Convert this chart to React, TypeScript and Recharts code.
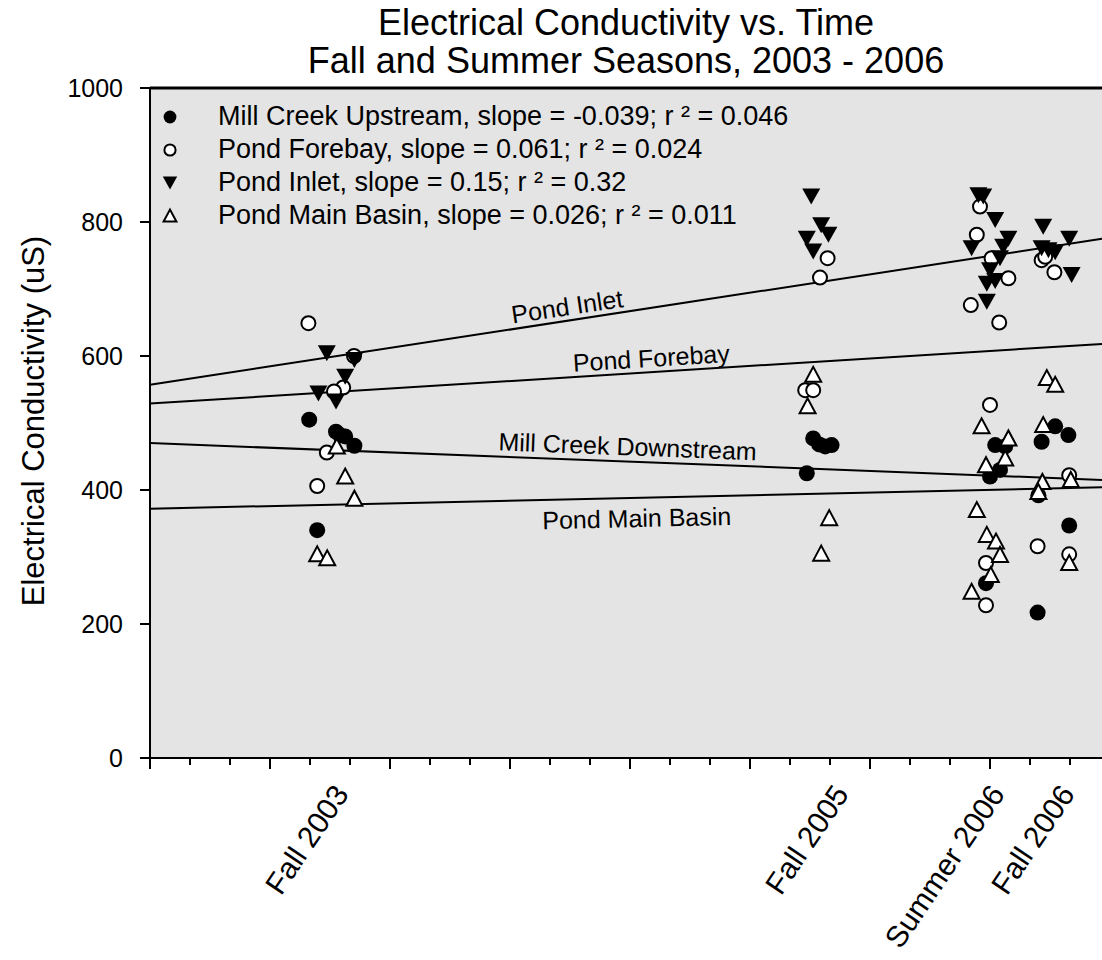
import React from 'react';
import { ScatterChart, Scatter, XAxis, YAxis, CartesianGrid, ReferenceLine, ReferenceDot, Legend } from 'recharts';

const FONT = '"Liberation Sans", Arial, Helvetica, sans-serif';

// x = position along the time axis in minor-tick units, y = conductivity (uS)
const millCreek = [
  { x: 3.98, y: 505 }, { x: 4.65, y: 487 }, { x: 4.75, y: 482 }, { x: 4.88, y: 480 }, { x: 5.11, y: 466 }, { x: 4.18, y: 340 },
  { x: 16.58, y: 477 }, { x: 16.88, y: 465 }, { x: 17.04, y: 467 }, { x: 16.73, y: 468 }, { x: 16.42, y: 425 },
  { x: 21.13, y: 467 }, { x: 21.38, y: 465 }, { x: 21.25, y: 430 }, { x: 21.0, y: 420 }, { x: 20.9, y: 261 },
  { x: 22.63, y: 495 }, { x: 22.96, y: 482 }, { x: 22.29, y: 472 }, { x: 22.21, y: 392 }, { x: 22.98, y: 347 }, { x: 22.19, y: 217 },
];

const forebay = [
  { x: 3.96, y: 649 }, { x: 4.83, y: 553 }, { x: 4.6, y: 547 }, { x: 5.1, y: 600 }, { x: 4.42, y: 456 }, { x: 4.18, y: 406 },
  { x: 16.94, y: 746 }, { x: 16.75, y: 717 }, { x: 16.38, y: 549 }, { x: 16.58, y: 549 },
  { x: 20.75, y: 823 }, { x: 20.67, y: 781 }, { x: 21.04, y: 746 }, { x: 21.46, y: 716 }, { x: 20.52, y: 676 },
  { x: 21.23, y: 650 }, { x: 21.0, y: 527 }, { x: 20.9, y: 291 }, { x: 20.9, y: 228 },
  { x: 22.29, y: 743 }, { x: 22.38, y: 748 }, { x: 22.61, y: 725 }, { x: 22.98, y: 422 }, { x: 22.19, y: 316 }, { x: 22.98, y: 304 },
];

const inlet = [
  { x: 4.42, y: 604 }, { x: 5.11, y: 594 }, { x: 4.88, y: 569 }, { x: 4.21, y: 544 }, { x: 4.65, y: 532 },
  { x: 16.53, y: 838 }, { x: 16.78, y: 795 }, { x: 16.96, y: 781 }, { x: 16.42, y: 775 }, { x: 16.58, y: 756 },
  { x: 20.71, y: 840 }, { x: 20.83, y: 838 }, { x: 21.13, y: 803 }, { x: 20.54, y: 761 }, { x: 21.46, y: 775 },
  { x: 21.33, y: 763 }, { x: 21.25, y: 746 }, { x: 21.0, y: 728 }, { x: 21.13, y: 712 }, { x: 20.92, y: 708 }, { x: 20.92, y: 681 },
  { x: 22.33, y: 793 }, { x: 22.98, y: 775 }, { x: 22.29, y: 761 }, { x: 22.46, y: 758 }, { x: 22.63, y: 755 }, { x: 23.04, y: 721 },
];

const mainBasin = [
  { x: 4.67, y: 465 }, { x: 4.88, y: 420 }, { x: 5.11, y: 387 }, { x: 4.18, y: 304 }, { x: 4.43, y: 298 },
  { x: 16.58, y: 572 }, { x: 16.44, y: 525 }, { x: 16.98, y: 358 }, { x: 16.78, y: 305 },
  { x: 20.79, y: 495 }, { x: 21.46, y: 477 }, { x: 21.38, y: 447 }, { x: 20.9, y: 437 }, { x: 20.67, y: 370 },
  { x: 20.92, y: 333 }, { x: 21.15, y: 323 }, { x: 21.25, y: 303 }, { x: 21.02, y: 273 }, { x: 20.54, y: 248 },
  { x: 22.42, y: 567 }, { x: 22.63, y: 557 }, { x: 22.33, y: 497 }, { x: 23.02, y: 415 }, { x: 22.31, y: 412 },
  { x: 22.21, y: 397 }, { x: 22.98, y: 291 },
];

const SERIES_NAMES = ['Mill Creek Upstream', 'Pond Forebay', 'Pond Inlet', 'Pond Main Basin'];
const SERIES_STATS = [
  'slope = -0.039; r \u00b2 = 0.046',
  'slope = 0.061; r \u00b2 = 0.024',
  'slope = 0.15; r \u00b2 = 0.32',
  'slope = 0.026; r \u00b2 = 0.011',
];
const SERIES_MARKERS = ['dot', 'ring', 'down', 'up'];
const SERIES_DATA = [millCreek, forebay, inlet, mainBasin];

const X_MAX = 23.8;
const Y_TICKS = [0, 200, 400, 600, 800, 1000];
const MINOR_TICKS = Array.from({ length: 24 }, (_, i) => i);
const SEASON_X = [4.55, 17.05, 20.95, 22.7];
const SEASON_LABELS = ['Fall 2003', 'Fall 2005', 'Summer 2006', 'Fall 2006'];

// regression lines, value at left and right edge of the plot
const FIT_NAMES = ['Pond Inlet', 'Pond Forebay', 'Mill Creek Downstream', 'Pond Main Basin'];
const FIT_START = [557, 529, 470, 372];
const FIT_END = [775, 618, 415, 404];
const FIT_LABEL_X = [10.43, 12.53, 11.94, 12.17];
const FIT_LABEL_Y = [674, 597, 465, 358];
const FIT_LABEL_ANGLE = [-8.5, -3.6, 2.2, -1.3];

const Marker = ({ kind, cx, cy, s = 1 }: { kind: string; cx: number; cy: number; s?: number }) => {
  if (kind === 'dot') return <circle cx={cx} cy={cy} r={8 * s} fill="#000" />;
  if (kind === 'ring') return <circle cx={cx} cy={cy} r={7 * s} fill="#fff" stroke="#000" strokeWidth={2} />;
  if (kind === 'down') {
    const pts = `${cx - 9 * s},${cy - 8 * s} ${cx + 9 * s},${cy - 8 * s} ${cx},${cy + 8 * s}`;
    return <polygon points={pts} fill="#000" />;
  }
  const pts = `${cx - 8 * s},${cy + 7 * s} ${cx + 8 * s},${cy + 7 * s} ${cx},${cy - 8 * s}`;
  return <polygon points={pts} fill="#fff" stroke="#000" strokeWidth={2} strokeLinejoin="miter" />;
};

const XTick = (props: any) => {
  const { x, y, payload } = props;
  const idx = SEASON_X.indexOf(payload.value);
  if (idx >= 0) {
    const ty = y + 24;
    return (
      <text x={x} y={ty} transform={`rotate(-56, ${x}, ${ty})`} textAnchor="end" dy="0.72em"
        fontSize={30} fontFamily={FONT} fill="#000">
        {SEASON_LABELS[idx]}
      </text>
    );
  }
  const major = Math.round(payload.value) % 3 === 0;
  return <line x1={x} y1={y} x2={x} y2={y + (major ? 11 : 7)} stroke="#000" strokeWidth={2} />;
};

const LegendBox = () => (
  <div style={{ fontFamily: FONT, fontSize: 27, color: '#000' }}>
    {SERIES_NAMES.map((name, i) => (
      <div key={name} style={{ display: 'flex', alignItems: 'center', height: 33 }}>
        <svg width={24} height={24} style={{ display: 'block' }}>
          <Marker kind={SERIES_MARKERS[i]} cx={12} cy={12} s={0.8} />
        </svg>
        <span style={{ marginLeft: 36, whiteSpace: 'nowrap' }}>{name}, {SERIES_STATS[i]}</span>
      </div>
    ))}
  </div>
);

export default function App() {
  const xTicks = [...MINOR_TICKS, ...SEASON_X].sort((a, b) => a - b);
  return (
    <div style={{ position: 'fixed', left: 0, top: 0, width: 1102, height: 960, background: '#fff', fontFamily: FONT }}>
      <div style={{ position: 'absolute', left: 150, top: 4, width: 952, textAlign: 'center', fontSize: 36, lineHeight: '38px', color: '#000' }}>
        Electrical Conductivity vs. Time<br />Fall and Summer Seasons, 2003 - 2006
      </div>
      <div style={{ position: 'absolute', left: 33, top: 421, transform: 'translate(-50%, -50%) rotate(-90deg)', fontSize: 31, lineHeight: '31px', whiteSpace: 'nowrap', color: '#000' }}>
        Electrical Conductivity (uS)
      </div>
      <ScatterChart width={1102} height={960} margin={{ top: 88, right: 0, bottom: 0, left: 80 }} style={{ position: 'absolute', left: 0, top: 0 }}>
        <CartesianGrid fill="#e4e4e4" fillOpacity={1} horizontal={false} vertical={false} stroke="none" />
        <XAxis type="number" dataKey="x" domain={[0, X_MAX]} allowDataOverflow ticks={xTicks} interval={0}
          height={202} tickSize={0} tickMargin={0} tickLine={false} tick={<XTick />}
          axisLine={{ stroke: '#000', strokeWidth: 2 }} />
        <YAxis type="number" dataKey="y" domain={[0, 1000]} ticks={Y_TICKS} width={70} tickSize={10} tickMargin={17}
          tick={{ fontSize: 25, fill: '#000', fontFamily: FONT }}
          tickLine={{ stroke: '#000', strokeWidth: 2 }} axisLine={{ stroke: '#000', strokeWidth: 2 }} />
        <ReferenceLine y={1000} stroke="#000" strokeWidth={3} />
        {FIT_NAMES.map((name, i) => (
          <ReferenceLine key={name} segment={[{ x: 0, y: FIT_START[i] }, { x: X_MAX, y: FIT_END[i] }]} stroke="#000" strokeWidth={2} />
        ))}
        {FIT_NAMES.map((name, i) => (
          <ReferenceDot key={'l' + name} x={FIT_LABEL_X[i]} y={FIT_LABEL_Y[i]} r={0} fill="none" stroke="none"
            label={{ value: name, position: 'center', angle: FIT_LABEL_ANGLE[i], fontSize: 25, fill: '#000', fontFamily: FONT }} />
        ))}
        {SERIES_NAMES.map((name, i) => (
          <Scatter key={name} name={name} data={SERIES_DATA[i]} isAnimationActive={false}
            shape={(p: any) => <Marker kind={SERIES_MARKERS[i]} cx={p.cx} cy={p.cy} />} />
        ))}
        <Legend layout="vertical" align="center" verticalAlign="middle" content={<LegendBox />}
          wrapperStyle={{ position: 'absolute', left: 158, top: 100, width: 'auto', height: 'auto' }} />
      </ScatterChart>
    </div>
  );
}
